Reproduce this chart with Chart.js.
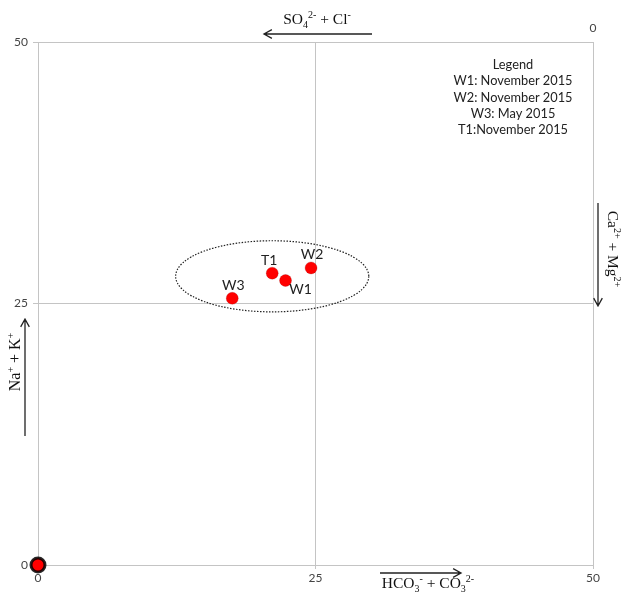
<!DOCTYPE html>
<html>
<head>
<meta charset="utf-8">
<script src="https://cdn.jsdelivr.net/npm/chart.js@4.4.0/dist/chart.umd.min.js"></script>
<style>
  html, body { margin: 0; padding: 0; background: #fff; }
  #wrap { width: 621px; height: 593px; }
</style>
</head>
<body>
<div id="wrap"><canvas id="plot"></canvas></div>
<script>
// sample points
var names = ["W3", "T1", "W1", "W2"];
var xVals = [17.5, 21.1, 22.3, 24.6];
var yVals = [25.5, 27.9, 27.2, 28.4];
var labelSide = ["above", "above", "below", "above"];
var origin = [{x: 0, y: 0}];
// dotted ellipse: centre x, centre y, radius x, radius y (data units)
var ellipse = [21.1, 27.6, 8.7, 3.4];
var tickVals = [0, 25, 50];
var legendLines = ["Legend", "W1: November 2015", "W2: November 2015", "W3: May 2015", "T1:November 2015"];

var points = names.map(function(n, i) { return {x: xVals[i], y: yVals[i]}; });

// draw text with sub/superscripts, parts = [[text, "n"|"sub"|"sup"], ...]
function richWidth(ctx, parts, size) {
    var w = 0;
    parts.forEach(function(p) {
        ctx.font = (p[1] == "n" ? size : Math.round(size * 0.65)) + "px 'Liberation Serif'";
        w += ctx.measureText(p[0]).width;
    });
    return w;
}
function drawRich(ctx, parts, x, y, size) {
    var w = richWidth(ctx, parts, size);
    var cx = x - w / 2;
    ctx.textBaseline = "alphabetic";
    ctx.textAlign = "left";
    parts.forEach(function(p) {
        var small = Math.round(size * 0.65);
        var dy = 0;
        if (p[1] == "sub") dy = size * 0.25;
        if (p[1] == "sup") dy = -size * 0.4;
        ctx.font = (p[1] == "n" ? size : small) + "px 'Liberation Serif'";
        ctx.fillText(p[0], cx, y + dy);
        cx += ctx.measureText(p[0]).width;
    });
}
function arrow(ctx, x1, y1, x2, y2) {
    var a = Math.atan2(y2 - y1, x2 - x1);
    ctx.beginPath();
    ctx.moveTo(x1, y1);
    ctx.lineTo(x2, y2);
    ctx.moveTo(x2 - 9 * Math.cos(a - 0.5), y2 - 9 * Math.sin(a - 0.5));
    ctx.lineTo(x2, y2);
    ctx.lineTo(x2 - 9 * Math.cos(a + 0.5), y2 - 9 * Math.sin(a + 0.5));
    ctx.stroke();
}

var extras = {
    id: "extras",
    beforeDatasetsDraw: function(chart) {
        var ctx = chart.ctx, a = chart.chartArea;
        var xs = chart.scales.x, ys = chart.scales.y;
        ctx.save();
        // frame
        ctx.strokeStyle = "#c4c4c4";
        ctx.lineWidth = 1;
        ctx.strokeRect(a.left + 0.5, a.top + 0.5, a.right - a.left, a.bottom - a.top);
        // dotted ellipse
        var cx = xs.getPixelForValue(ellipse[0]), cy = ys.getPixelForValue(ellipse[1]);
        var rx = xs.getPixelForValue(ellipse[0] + ellipse[2]) - cx;
        var ry = cy - ys.getPixelForValue(ellipse[1] + ellipse[3]);
        ctx.strokeStyle = "#222";
        ctx.lineWidth = 1.2;
        ctx.setLineDash([1.5, 1.5]);
        ctx.beginPath();
        ctx.ellipse(cx, cy, rx, ry, 0, 0, Math.PI * 2);
        ctx.stroke();
        ctx.restore();
    },
    afterDatasetsDraw: function(chart) {
        var ctx = chart.ctx, a = chart.chartArea;
        var xs = chart.scales.x, ys = chart.scales.y;
        ctx.save();
        // point names
        ctx.fillStyle = "#222";
        ctx.font = "14px Lato";
        ctx.textAlign = "center";
        names.forEach(function(n, i) {
            var px = xs.getPixelForValue(xVals[i]), py = ys.getPixelForValue(yVals[i]);
            if (labelSide[i] == "above") {
                ctx.textBaseline = "bottom";
                ctx.fillText(n, px + (i == 1 ? -3 : 1), py - 6);
            } else {
                ctx.textBaseline = "top";
                ctx.fillText(n, px + 15, py + 2);
            }
        });
        // legend text
        ctx.font = "12.8px Lato";
        ctx.fillStyle = "#222";
        ctx.textBaseline = "middle";
        legendLines.forEach(function(t, i) {
            ctx.fillText(t, 513, 65 + i * 16.3);
        });
        // top-right zero
        ctx.fillStyle = "#444";
        ctx.font = "12px Lato";
        ctx.fillText("0", a.right, 28);

        // axis arrows and labels
        ctx.strokeStyle = "#222";
        ctx.fillStyle = "#111";
        ctx.lineWidth = 1.3;
        ctx.setLineDash([]);
        arrow(ctx, 372, 34, 264, 34);
        drawRich(ctx, [["SO", "n"], ["4", "sub"], ["2-", "sup"], [" + Cl", "n"], ["-", "sup"]], 317, 24, 15.5);
        arrow(ctx, 380, 573, 461, 573);
        drawRich(ctx, [["HCO", "n"], ["3", "sub"], ["-", "sup"], [" + CO", "n"], ["3", "sub"], ["2-", "sup"]], 428, 588, 15.5);
        arrow(ctx, 25, 436, 25, 319);
        ctx.save();
        ctx.translate(20, 362);
        ctx.rotate(-Math.PI / 2);
        drawRich(ctx, [["Na", "n"], ["+", "sup"], [" + K", "n"], ["+", "sup"]], 0, 0, 16);
        ctx.restore();
        arrow(ctx, 598, 203, 598, 306);
        ctx.save();
        ctx.translate(608, 249);
        ctx.rotate(Math.PI / 2);
        drawRich(ctx, [["Ca", "n"], ["2+", "sup"], [" + Mg", "n"], ["2+", "sup"]], 0, 0, 15.5);
        ctx.restore();
        ctx.restore();
    }
};

new Chart("plot", {
    type: "scatter",
    data: {
        datasets: [
            {
                label: "samples",
                data: points,
                backgroundColor: "#ff0000",
                borderColor: "rgba(150,0,0,0.25)",
                borderWidth: 1,
                pointRadius: 6,
                pointHoverRadius: 6
            },
            {
                label: "origin",
                data: origin,
                backgroundColor: "#ff0000",
                borderColor: "rgba(0,0,0,0.85)",
                borderWidth: 3,
                pointRadius: 7,
                clip: false
            }
        ]
    },
    options: {
        responsive: true,
        maintainAspectRatio: false,
        animation: false,
        layout: { padding: { top: 42, right: 28, left: 0, bottom: 0 } },
        plugins: { legend: { display: false }, tooltip: { enabled: false } },
        scales: {
            x: {
                type: "linear",
                min: 0, max: 50,
                afterFit: function(s) { s.height = 28; },
                afterBuildTicks: function(s) { s.ticks = tickVals.map(function(v) { return {value: v}; }); },
                grid: {
                    color: function(c) { return c.tick && c.tick.value == 25 ? "#c4c4c4" : "rgba(0,0,0,0)"; },
                    tickColor: "#c4c4c4",
                    tickLength: 4
                },
                border: { color: "#c4c4c4" },
                ticks: { color: "#444", font: { family: "Lato", size: 12 }, padding: 2 }
            },
            y: {
                type: "linear",
                min: 0, max: 50,
                afterFit: function(s) { s.width = 38; },
                afterBuildTicks: function(s) { s.ticks = tickVals.map(function(v) { return {value: v}; }); },
                grid: {
                    color: function(c) { return c.tick && c.tick.value == 25 ? "#c4c4c4" : "rgba(0,0,0,0)"; },
                    tickColor: "#c4c4c4",
                    tickLength: 5
                },
                border: { color: "#c4c4c4" },
                ticks: { color: "#444", font: { family: "Lato", size: 12 }, padding: 5 }
            }
        }
    },
    plugins: [extras]
});
</script>
</body>
</html>
